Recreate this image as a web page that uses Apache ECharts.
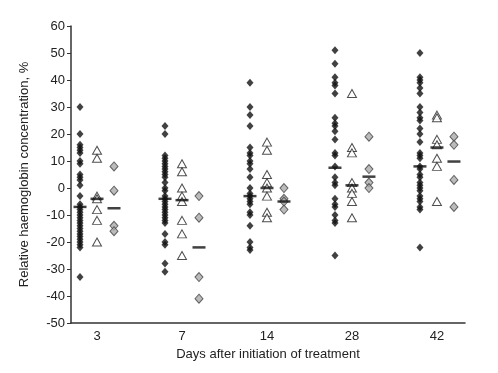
<!DOCTYPE html>
<html>
<head>
<meta charset="utf-8">
<script src="https://cdn.jsdelivr.net/npm/echarts@6/dist/echarts.min.js"></script>
<style>
  html, body { margin: 0; padding: 0; background: #fff; }
  #main { width: 498px; height: 373px; }
</style>
</head>
<body>
<div id="main"></div>
<script>
// days after start of treatment
var days = ['3', '7', '14', '28', '42'];

// filled black diamonds, one list per day
var blackVals = [
  [30, 20, 16, 15, 14, 13, 10, 9, 5, 4, 3, 1, -3, -6, -7, -8, -9, -10, -11, -12, -13, -14, -15, -16, -17, -18, -19, -20, -21, -22, -33],
  [23, 20, 12, 11, 10, 9, 8, 7, 6, 5, 4, 2, 0, -1, -3, -4, -5, -6, -7, -8, -9, -10, -11, -12, -13, -17, -20, -21, -28, -31],
  [39, 30, 27, 23, 15, 13, 12, 10, 9, 7, 4, 0, -2, -3, -4, -5, -6, -9, -10, -14, -20, -22, -23],
  [51, 46, 41, 39, 38, 35, 26, 24, 23, 21, 18, 13, 12, 8, 4, 2, 1, -4, -6, -7, -10, -12, -13, -25],
  [50, 41, 40, 39, 37, 35, 30, 28, 26, 25, 22, 20, 17, 13, 12, 11, 8, 7, 5, 4, 2, 1, 0, -1, -3, -4, -5, -7, -8, -22]
];
// open triangles
var triVals = [
  [14, 11, -3, -4, -8, -12, -20],
  [9, 6, 0, -3, -5, -12, -17, -25],
  [17, 14, 5, 2, 0, -3, -9, -11],
  [35, 15, 13, 2, 0, -2, -5, -11],
  [27, 26, 18, 16, 11, 8, -5]
];
// grey diamonds
var greyVals = [
  [8, -1, -14, -16],
  [-3, -11, -33, -41],
  [0, -4, -5, -8],
  [19, 7, 2, 0],
  [19, 16, 3, -7]
];
// median bars
var blackMed = [-7, -4, -3, 7.5, 8];
var triMed = [-4, -4.5, 0, 1, 15];
var greyMed = [-7.5, -22, -5, 4.2, 9.8];

var yTicks = [-50, -40, -30, -20, -10, 0, 10, 20, 30, 40, 50, 60];

function pts(lists, off) {
  var out = [];
  lists.forEach(function (l, i) {
    l.forEach(function (v) { out.push([i + 1 + off, v]); });
  });
  return out;
}
function meds(arr, off) {
  return arr.map(function (v, i) { return [i + 1 + off, v]; });
}

var font = 'Liberation Sans, Arial, sans-serif';
var myChart = echarts.init(document.getElementById('main'));
var option = {
  animation: false,
  backgroundColor: '#fff',
  textStyle: { fontFamily: font },
  grid: { left: 71, right: 33, top: 26, bottom: 50 },
  xAxis: {
    type: 'value',
    min: 0.694,
    max: 5.33,
    name: 'Days after initiation of treatment',
    nameLocation: 'middle',
    nameGap: 24,
    nameTextStyle: { fontSize: 13, color: '#222', fontFamily: font },
    axisLine: { onZero: false, lineStyle: { color: '#333', width: 1.5 } },
    axisTick: { show: false },
    splitLine: { show: false },
    axisLabel: {
      customValues: [1, 2, 3, 4, 5],
      formatter: function (v) { return days[Math.round(v) - 1]; },
      fontSize: 13, color: '#222', margin: 7, fontFamily: font
    }
  },
  yAxis: {
    type: 'value',
    min: yTicks[0],
    max: yTicks[yTicks.length - 1],
    interval: 10,
    name: 'Relative haemoglobin concentration, %',
    nameLocation: 'middle',
    nameRotate: 90,
    nameGap: 40,
    nameTextStyle: { fontSize: 13, color: '#222', fontFamily: font },
    axisLine: { show: true, onZero: false, lineStyle: { color: '#333', width: 1.5 } },
    axisTick: { show: true, length: 4, lineStyle: { color: '#333' } },
    splitLine: { show: false },
    axisLabel: { fontSize: 13, color: '#222', margin: 6, fontFamily: font }
  },
  series: [
    {
      type: 'scatter', name: 'black', data: pts(blackVals, -0.2),
      symbol: 'diamond', symbolSize: [7, 8],
      itemStyle: { color: '#111' }
    },
    {
      type: 'scatter', name: 'triangle', data: pts(triVals, 0),
      symbol: 'triangle', symbolSize: [9, 8],
      itemStyle: { color: '#fff', borderColor: '#222', borderWidth: 1 }
    },
    {
      type: 'scatter', name: 'grey', data: pts(greyVals, 0.2),
      symbol: 'diamond', symbolSize: [8, 9],
      itemStyle: { color: '#aaa', borderColor: '#444', borderWidth: 1 }
    },
    {
      type: 'scatter', name: 'median', z: 5,
      data: meds(blackMed, -0.2).concat(meds(triMed, 0), meds(greyMed, 0.2)),
      symbol: 'rect', symbolSize: [13, 2.5],
      itemStyle: { color: '#111' }
    }
  ]
};
myChart.setOption(option, true);
</script>
</body>
</html>
